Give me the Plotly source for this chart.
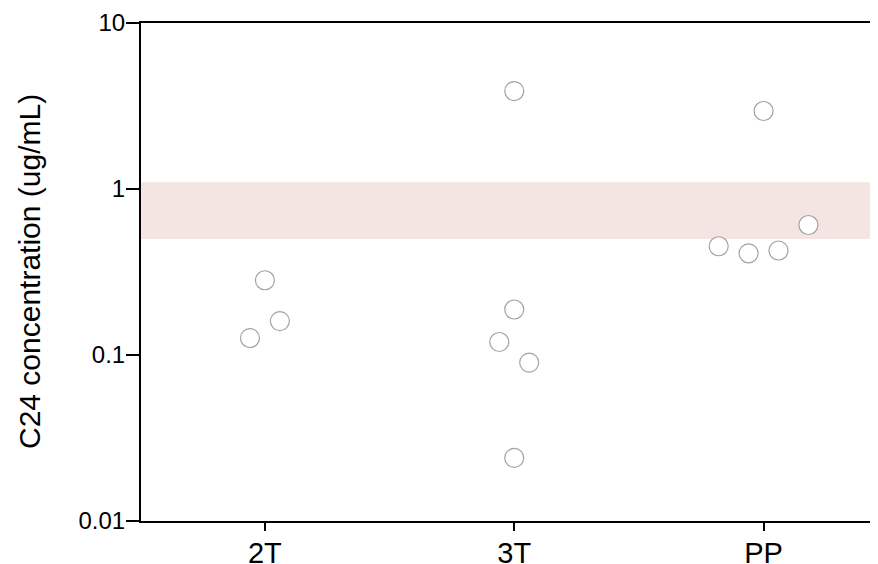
import plotly.graph_objects as go

categories = ["2T", "3T", "PP"]
values_2T = [0.1265, 0.282, 0.160]
values_3T = [3.89, 0.188, 0.1198, 0.090, 0.024]
values_PP = [0.452, 0.410, 2.95, 0.426, 0.607]
jitter_2T = [-0.06, 0.0, 0.06]
jitter_3T = [0.0, 0.0, -0.06, 0.06, 0.0]
jitter_PP = [-0.18, -0.06, 0.0, 0.06, 0.18]
reference_band = [0.5, 1.1]
y_tick_vals = [0.01, 0.1, 1, 10]
y_tick_text = ["0.01", "0.1", "1", "10"]

groups = [(values_2T, jitter_2T), (values_3T, jitter_3T), (values_PP, jitter_PP)]

fig = go.Figure()
for i, (vals, jit) in enumerate(groups):
    fig.add_trace(go.Scatter(
        x=[i + j for j in jit], y=vals, mode="markers",
        marker=dict(size=19, color="white", line=dict(color="#a3a3a3", width=1.2)),
        showlegend=False, hoverinfo="y"))

fig.add_shape(type="rect", xref="paper", x0=0, x1=1, yref="y",
              y0=reference_band[0], y1=reference_band[1],
              fillcolor="#f4e4e2", line=dict(width=0), layer="below")

fig.update_layout(
    width=870, height=556,
    margin=dict(l=133, r=0, t=15, b=43),
    paper_bgcolor="white", plot_bgcolor="white",
    font=dict(family="Liberation Sans, Arial, sans-serif", color="black"),
    xaxis=dict(range=[-0.497, 2.459], tickvals=[0, 1, 2], ticktext=categories,
               showline=True, linecolor="black", linewidth=2, mirror=True,
               ticks="outside", ticklen=8, tickwidth=2, tickcolor="black",
               showgrid=False, zeroline=False, tickfont=dict(size=29),
               ticklabelstandoff=-3, automargin=False),
    yaxis=dict(type="log", range=[-2, 1], tickvals=y_tick_vals, ticktext=y_tick_text,
               showline=True, linecolor="black", linewidth=2,
               ticks="outside", ticklen=13, tickwidth=2, tickcolor="black",
               showgrid=False, zeroline=False, tickfont=dict(size=24),
               ticklabelstandoff=-4, automargin=False),
    annotations=[dict(text="C24 concentration (ug/mL)", textangle=-90,
                      xref="paper", yref="paper", x=-(133 - 21) / 737, y=0.5,
                      xanchor="center", yanchor="middle", showarrow=False,
                      font=dict(size=30))],
)

fig.write_html("out.html")
